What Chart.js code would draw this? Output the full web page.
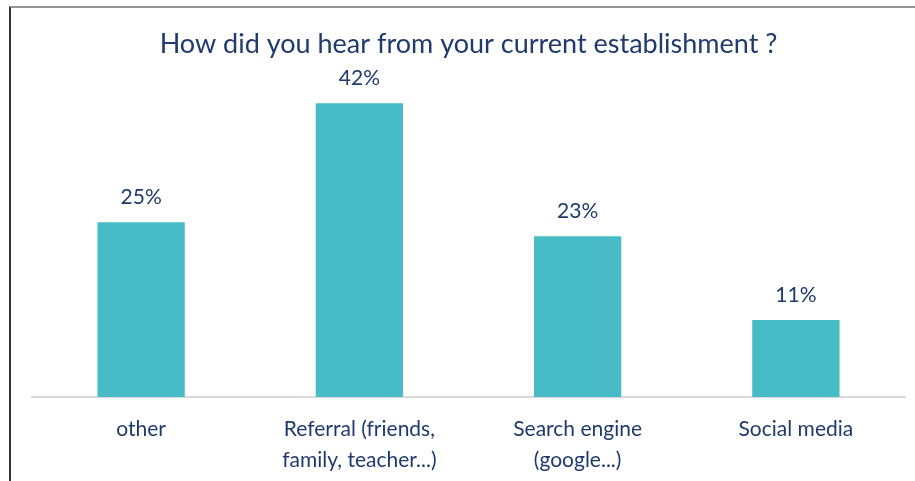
<!DOCTYPE html>
<html>
<head>
<meta charset="utf-8">
<script src="https://cdn.jsdelivr.net/npm/chart.js@4"></script>
<style>
  html, body { margin: 0; padding: 0; background: #ffffff; }
  #wrap { width: 915px; height: 481px; position: relative; }
  #frame {
    position: absolute; left: 9px; top: 6px; right: 0; bottom: 0;
    border-top: 2px solid #959595; border-left: 2px solid #333333;
    pointer-events: none;
  }
</style>
</head>
<body>
<div id="wrap"><canvas id="sourceChart"></canvas><div id="frame"></div></div>
<script>
const categories = [
    "other",
    ["Referral (friends,", "family, teacher...)"],
    ["Search engine", "(google...)"],
    "Social media"
];
const shares = [25, 42, 23, 11];
const titleText = "How did you hear from your current establishment ?";

const navy = "#1f3a6d";
const teal = "#47bcc6";

// percentage label above each bar
const valueLabels = {
    id: "valueLabels",
    afterDatasetsDraw(chart) {
        const ctx = chart.ctx;
        const meta = chart.getDatasetMeta(0);
        ctx.save();
        ctx.font = "21px Lato";
        ctx.fillStyle = navy;
        ctx.textAlign = "center";
        ctx.textBaseline = "middle";
        meta.data.forEach((bar, i) => {
            ctx.fillText(shares[i] + "%", bar.x, bar.y - 25);
        });
        ctx.restore();
    }
};

new Chart(document.getElementById("sourceChart"), {
    type: "bar",
    data: {
        labels: categories,
        datasets: [{
            data: shares,
            backgroundColor: teal,
            borderWidth: 0,
            categoryPercentage: 1,
            barPercentage: 0.4
        }]
    },
    options: {
        responsive: true,
        maintainAspectRatio: false,
        animation: false,
        layout: {
            padding: { left: 32, right: 10, top: 0, bottom: 0 }
        },
        plugins: {
            legend: { display: false },
            tooltip: { enabled: false },
            title: {
                display: true,
                text: titleText,
                color: navy,
                font: { family: "Lato", size: 27, weight: "normal" },
                padding: { top: 28, bottom: 15 }
            }
        },
        scales: {
            x: {
                grid: { display: false },
                border: { display: true, color: "#d9d9d9", width: 2 },
                ticks: {
                    color: navy,
                    font: { family: "Lato", size: 21, lineHeight: 1.48 },
                    padding: 9,
                    maxRotation: 0,
                    autoSkip: false
                },
                afterFit(scale) {
                    scale.height = 84;
                }
            },
            y: {
                display: false,
                min: 0,
                max: 46
            }
        }
    },
    plugins: [valueLabels]
});
</script>
</body>
</html>
